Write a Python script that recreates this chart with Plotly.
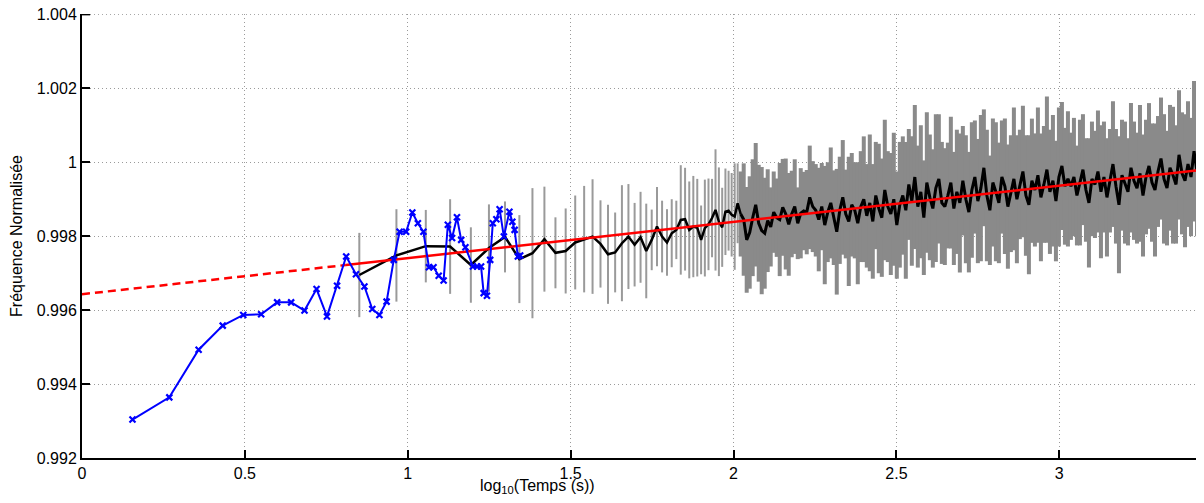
import numpy as np
import plotly.graph_objects as go

# ---------------- data ----------------
# Blue series (early measurements): log10(t) and normalised frequency
blue_x = [0.155, 0.268, 0.358, 0.432, 0.495, 0.550, 0.599, 0.642, 0.683, 0.720,
          0.752, 0.783, 0.811, 0.841, 0.867, 0.891, 0.913, 0.935, 0.957, 0.975,
          0.995, 1.014, 1.031, 1.048, 1.065, 1.079, 1.095, 1.110, 1.123, 1.136,
          1.151, 1.164, 1.177, 1.200, 1.213, 1.225, 1.233, 1.243, 1.253, 1.261,
          1.272, 1.282, 1.295, 1.312, 1.321, 1.328, 1.338, 1.345]
blue_y = [0.99304, 0.99364, 0.99493, 0.99558, 0.99587, 0.99589, 0.99621, 0.99621, 0.99599, 0.99657,
          0.99583, 0.99666, 0.99745, 0.99697, 0.99664, 0.99603, 0.99587, 0.99623, 0.99736, 0.99812,
          0.99812, 0.99864, 0.99835, 0.99812, 0.99716, 0.99716, 0.99693, 0.99680, 0.99831, 0.99795,
          0.99851, 0.99790, 0.99770, 0.99718, 0.99718, 0.99718, 0.99646, 0.99639, 0.99736, 0.99835,
          0.99846, 0.99873, 0.99799, 0.99866, 0.99839, 0.99817, 0.99745, 0.99748]

# Averaged series, sparse part: samples at t = 7.1 s + 2.13 s * k
t_start, t_step = 7.1, 2.13
mean_sparse = [0.99695, 0.99748, 0.99773, 0.99772, 0.99722, 0.99768, 0.99798, 0.99738, 0.99754, 0.99792,
               0.99755, 0.99760, 0.99783, 0.99792, 0.99799, 0.99779, 0.99751, 0.99756, 0.99781, 0.99799,
               0.99777, 0.99797, 0.99760, 0.99790, 0.99826, 0.99799, 0.99783, 0.99808, 0.99817, 0.99844,
               0.99846, 0.99817, 0.99826, 0.99823, 0.99790, 0.99822, 0.99832, 0.99849, 0.99871, 0.99839,
               0.99824, 0.99866, 0.99869, 0.99858, 0.99853, 0.99889]
std_sparse = [0.00114, 0.00125, 0.00098, 0.00128, 0.00102, 0.00118, 0.00096, 0.00119, 0.00176, 0.00142,
              0.00096, 0.00115, 0.00127, 0.00144, 0.00155, 0.00118, 0.00134, 0.00108, 0.00157, 0.00142,
              0.00113, 0.00123, 0.00128, 0.00082, 0.00107, 0.00097, 0.00090, 0.00092, 0.00079, 0.00148,
              0.00139, 0.00131, 0.00137, 0.00132, 0.00093, 0.00131, 0.00124, 0.00106, 0.00164, 0.00147,
              0.00107, 0.00117, 0.00108, 0.00113, 0.00144, 0.00108]

# Averaged series, dense part (log10(t) from 2.022 to 3.432)
dense_x_start, dense_x_end = 2.022, 3.432
mean_dense = [
    # 2.02 - 2.25
    0.99860, 0.99845, 0.99790, 0.99810, 0.99850, 0.99885, 0.99835, 0.99815, 0.99808, 0.99842,
    0.99825, 0.99865, 0.99850, 0.99845, 0.99878, 0.99860, 0.99832, 0.99860, 0.99880, 0.99835,
    0.99862, 0.99868, 0.99865, 0.99905, 0.99880,
    # 2.25 - 2.65
    0.99870, 0.99845, 0.99880, 0.99830, 0.99865, 0.99890, 0.99850, 0.99812, 0.99870, 0.99905,
    0.99860, 0.99840, 0.99885, 0.99870, 0.99835,
    0.99880, 0.99900, 0.99855, 0.99890, 0.99840, 0.99910, 0.99875, 0.99850, 0.99925, 0.99880,
    0.99860, 0.99900, 0.99830, 0.99885,
    0.99910, 0.99870, 0.99940, 0.99895, 0.99960, 0.99880, 0.99920, 0.99850, 0.99945, 0.99905,
    0.99875, 0.99930, 0.99955, 0.99890,
    # 2.65 - 3.05
    0.99880, 0.99910, 0.99945, 0.99875, 0.99920, 0.99890, 0.99950, 0.99900, 0.99865, 0.99925,
    0.99960, 0.99895, 0.99930, 0.99985, 0.99910, 0.99870, 0.99945, 0.99920, 0.99890, 0.99960,
    0.99935, 0.99880, 0.99915, 0.99955, 0.99900, 0.99940, 0.99975, 0.99910, 0.99885, 0.99950,
    0.99925, 0.99965, 0.99905, 0.99940, 0.99980, 0.99920, 0.99950, 0.99895, 0.99960, 0.99990,
    0.99935, 0.99955,
    # 3.05 - 3.43
    0.99935, 0.99960, 0.99910, 0.99945, 0.99980, 0.99925, 0.99890, 0.99955, 0.99940, 0.99975,
    0.99920, 0.99960, 0.99905, 0.99950, 0.99995, 0.99935, 0.99885, 0.99965, 0.99945, 0.99920,
    0.99985, 0.99950, 0.99930, 0.99970, 0.99910, 0.99960, 0.99990, 0.99945, 0.99925, 0.99975,
    1.00010, 0.99955, 0.99930, 0.99985, 0.99965, 0.99940, 1.00020, 0.99970, 0.99950, 0.99995,
    0.99960, 1.00030, 0.99975, 0.99985]
std_dense = [
    0.00115, 0.00152, 0.00143, 0.00152, 0.00158, 0.00167, 0.00158, 0.00172, 0.00150, 0.00139,
    0.00107, 0.00110, 0.00106, 0.00153, 0.00131, 0.00150, 0.00139, 0.00117, 0.00128, 0.00097,
    0.00122, 0.00106, 0.00114, 0.00140, 0.00123,
    0.00125, 0.00140, 0.00118, 0.00160, 0.00135, 0.00150, 0.00128, 0.00170, 0.00145, 0.00155,
    0.00120, 0.00175, 0.00140, 0.00130, 0.00165,
    0.00150, 0.00170, 0.00140, 0.00185, 0.00155, 0.00145, 0.00175, 0.00160, 0.00190, 0.00150,
    0.00165, 0.00180, 0.00145, 0.00170,
    0.00160, 0.00185, 0.00150, 0.00175, 0.00195, 0.00165, 0.00180, 0.00155, 0.00190, 0.00170,
    0.00160, 0.00200, 0.00175, 0.00165,
    0.00158, 0.00143, 0.00178, 0.00153, 0.00168, 0.00188, 0.00148, 0.00173, 0.00163, 0.00183,
    0.00153, 0.00168, 0.00198, 0.00158, 0.00178, 0.00148, 0.00173, 0.00188, 0.00163, 0.00153,
    0.00183, 0.00168, 0.00158, 0.00193, 0.00173, 0.00148, 0.00178, 0.00163, 0.00188, 0.00168,
    0.00153, 0.00183, 0.00173, 0.00158, 0.00198, 0.00168, 0.00178, 0.00163, 0.00188, 0.00173,
    0.00158, 0.00183,
    0.00145, 0.00160, 0.00135, 0.00170, 0.00150, 0.00140, 0.00175, 0.00155, 0.00145, 0.00165,
    0.00180, 0.00150, 0.00160, 0.00140, 0.00170, 0.00155, 0.00185, 0.00150, 0.00165, 0.00145,
    0.00175, 0.00160, 0.00150, 0.00185, 0.00165, 0.00155, 0.00170, 0.00160, 0.00180, 0.00150,
    0.00165, 0.00175, 0.00155, 0.00170, 0.00185, 0.00160, 0.00175, 0.00165, 0.00180, 0.00170,
    0.00160, 0.00190, 0.00175, 0.00170]

# Linear fit (red): extrapolated part (dashed) and fitted part (solid)
fit_dash_x = [0.0, 0.81]
fit_dash_y = [0.99643, 0.99722]
fit_solid_x = [0.81, 3.435]
fit_solid_y = [0.99722, 0.99979]

x_ticks = [0, 0.5, 1, 1.5, 2, 2.5, 3]
x_ticktext = ["0", "0.5", "1", "1.5", "2", "2.5", "3"]
y_ticks = [0.992, 0.994, 0.996, 0.998, 1.0, 1.002, 1.004]
y_ticktext = ["0.992", "0.994", "0.996", "0.998", "1", "1.002", "1.004"]

# ---------------- derived positions ----------------
t_sparse = t_start + t_step * np.arange(len(mean_sparse))
x_sparse = np.log10(t_sparse)
x_dense = np.linspace(dense_x_start, dense_x_end, len(mean_dense))

GRAY = "#8a8a8a"
GRID = "#9a9a9a"
fig = go.Figure()

fig.add_trace(go.Scatter(
    x=x_sparse, y=mean_sparse, mode="markers",
    marker=dict(size=1, color="rgba(0,0,0,0)"),
    error_y=dict(type="data", array=std_sparse, visible=True, color="#9a9a9a", thickness=2, width=0),
    hoverinfo="skip", showlegend=False))
fig.add_trace(go.Scatter(
    x=x_dense, y=mean_dense, mode="markers",
    marker=dict(size=1, color="rgba(0,0,0,0)"),
    error_y=dict(type="data", array=std_dense, visible=True, color=GRAY, thickness=4, width=0),
    hoverinfo="skip", showlegend=False))
# black averaged line: sparse part, then dense part (joined)
fig.add_trace(go.Scatter(
    x=np.append(x_sparse, x_dense[0]), y=np.append(mean_sparse, mean_dense[0]), mode="lines",
    line=dict(color="black", width=2.5), showlegend=False))
fig.add_trace(go.Scatter(
    x=x_dense, y=mean_dense, mode="lines",
    line=dict(color="black", width=3), showlegend=False))
fig.add_trace(go.Scatter(
    x=fit_dash_x, y=fit_dash_y, mode="lines",
    line=dict(color="#ff0000", width=2.5, dash="8px,5px"), showlegend=False))
fig.add_trace(go.Scatter(
    x=fit_solid_x, y=fit_solid_y, mode="lines",
    line=dict(color="#ff0000", width=2.5), showlegend=False))
fig.add_trace(go.Scatter(
    x=blue_x, y=blue_y, mode="lines+markers",
    line=dict(color="#0000ff", width=2),
    marker=dict(symbol="x-thin", size=6, color="#0000ff", line=dict(color="#0000ff", width=2.2)),
    showlegend=False))

FONT = "Liberation Sans, Arial, Helvetica, sans-serif"
axis_common = dict(
    showline=True, linecolor="black", linewidth=2, mirror=False,
    ticks="inside", ticklen=8, tickwidth=2, tickcolor="black",
    showgrid=True, gridcolor=GRID, gridwidth=1, griddash="1px,3px",
    zeroline=False, tickfont=dict(family=FONT, size=16, color="black"),
    automargin=False, ticklabeloverflow="allow",
)

fig.update_xaxes(range=[0, 3.435], tickvals=x_ticks, ticktext=x_ticktext, **axis_common)
fig.update_yaxes(range=[0.992, 1.00401], tickvals=y_ticks, ticktext=y_ticktext,
                 title=dict(text="Fréquence Normalisée", font=dict(family=FONT, size=16, color="black"),
                            standoff=10),
                 **axis_common)

# top gridline at the upper axis limit (plotly drops gridlines on the plot edge)
fig.add_shape(type="line", xref="paper", yref="y", x0=0, x1=1, y0=y_ticks[-1], y1=y_ticks[-1],
              line=dict(color=GRID, width=1, dash="1px,3px"), layer="below")
# tick mark at the upper limit
fig.add_shape(type="line", xref="x", yref="y", x0=0, x1=0.025, y0=y_ticks[-1], y1=y_ticks[-1],
              line=dict(color="black", width=2), layer="above")

fig.add_annotation(
    text="log<sub>10</sub>(Temps (s))", xref="paper", yref="paper",
    x=0.4075, y=-0.064, xanchor="center", yanchor="middle", showarrow=False,
    font=dict(family=FONT, size=16, color="black"))

fig.update_layout(
    width=1204, height=503,
    margin=dict(l=74, r=11, t=6, b=53),
    plot_bgcolor="white", paper_bgcolor="white",
    showlegend=False,
)

fig.write_html("out.html")
